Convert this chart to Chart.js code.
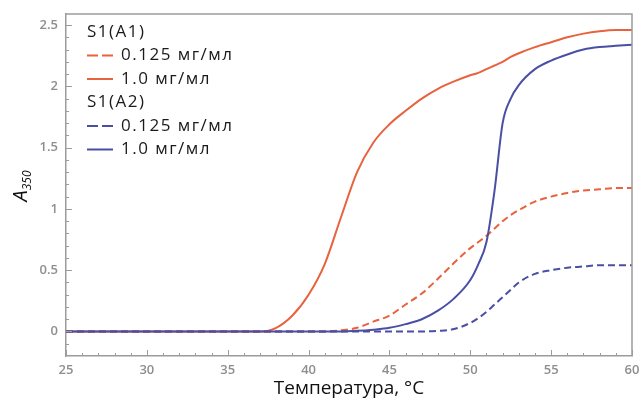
<!DOCTYPE html>
<html>
<head>
<meta charset="utf-8">
<script src="https://cdn.jsdelivr.net/npm/chart.js@4.4.1/dist/chart.umd.min.js"></script>
<style>
  html, body { margin: 0; padding: 0; background: #fff; }
  #wrap { width: 642px; height: 400px; position: relative; }
</style>
</head>
<body>
<div id="wrap"><canvas id="chart"></canvas></div>
<script>
// Temperature grid (°C) shared by all four curves
const temps = [25, 30, 35, 37, 38, 39, 40, 41, 42, 43, 44, 45, 46, 47, 48, 49, 50, 50.5, 51, 51.5, 52, 52.5, 53, 54, 55, 56, 57, 58, 59, 60]

// A350 readings, S1(A1)
const a1Low  = [0, 0, 0, 0, 0, 0, 0, 0, 0.01, 0.03, 0.08, 0.13, 0.22, 0.31, 0.43, 0.56, 0.68, 0.73, 0.78, 0.84, 0.9, 0.95, 0.99, 1.06, 1.1, 1.13, 1.15, 1.16, 1.17, 1.17]
const a1High = [0, 0, 0, 0, 0.03, 0.13, 0.3, 0.55, 0.93, 1.3, 1.54, 1.69, 1.8, 1.9, 1.98, 2.04, 2.09, 2.11, 2.14, 2.17, 2.2, 2.24, 2.27, 2.32, 2.36, 2.4, 2.43, 2.45, 2.46, 2.46]
// A350 readings, S1(A2)
const a2Low  = [0, 0, 0, 0, 0, 0, 0, 0, 0, 0, 0, 0, 0, 0, 0.005, 0.02, 0.07, 0.11, 0.16, 0.22, 0.28, 0.34, 0.4, 0.47, 0.5, 0.52, 0.53, 0.54, 0.54, 0.54]
const a2High = [0, 0, 0, 0, 0, 0, 0, 0, 0, 0.005, 0.015, 0.03, 0.06, 0.1, 0.17, 0.27, 0.42, 0.55, 0.73, 1.15, 1.7, 1.9, 2.01, 2.14, 2.21, 2.26, 2.3, 2.32, 2.33, 2.34]

const xTicks = [25, 30, 35, 40, 45, 50, 55, 60]
const yTicks = [0, 0.5, 1, 1.5, 2, 2.5]
const groupLabels = ['S1(A1)', 'S1(A2)']
const concLabels = ['0.125 мг/мл', '1.0 мг/мл']

const RED = '#e8623d'
const BLUE = '#4a4fa3'
const AXIS = '#9c9c9c'
const TICK_TEXT = '#8e8e8e'

function series(values, color, dashed, group, label, order) {
  return {
    label: label,
    group: group,
    order: order,
    data: temps.map((t, i) => ({ x: t, y: values[i] })),
    borderColor: color,
    borderWidth: 2,
    borderDash: dashed ? [7, 4] : [],
    pointRadius: 0,
    cubicInterpolationMode: 'monotone',
    fill: false
  }
}

// Inward ticks, the top/right frame, the y title with subscript and the grouped legend
const decorations = {
  id: 'decorations',
  afterDraw(chart) {
    const { ctx, chartArea: a, scales: { x, y } } = chart
    ctx.save()
    ctx.strokeStyle = AXIS
    ctx.lineWidth = 1.5
    ctx.beginPath()
    ctx.moveTo(a.left, a.top); ctx.lineTo(a.right, a.top); ctx.lineTo(a.right, a.bottom)
    ctx.stroke()

    ctx.lineWidth = 1
    ctx.beginPath()
    for (let t = 25; t <= 60; t++) {
      const px = Math.round(x.getPixelForValue(t)) + 0.5
      const len = t % 5 === 0 ? 6 : 3
      ctx.moveTo(px, a.bottom); ctx.lineTo(px, a.bottom - len)
    }
    for (let i = -1; i <= 25; i++) {
      const py = Math.round(y.getPixelForValue(i / 10)) + 0.5
      const len = i % 5 === 0 ? 6 : 3
      ctx.moveTo(a.left, py); ctx.lineTo(a.left + len, py)
    }
    ctx.stroke()

    // y axis title: italic A with subscript 350
    ctx.save()
    ctx.translate(27, 186)
    ctx.rotate(-Math.PI / 2)
    ctx.fillStyle = '#111'
    ctx.textBaseline = 'alphabetic'
    ctx.font = 'italic 20px "Open Sans"'
    const wA = ctx.measureText('A').width
    ctx.font = 'italic 12px "Open Sans"'
    const wSub = ctx.measureText('350').width
    const start = -(wA + wSub) / 2
    ctx.font = 'italic 20px "Open Sans"'
    ctx.fillText('A', start, 0)
    ctx.font = 'italic 12px "Open Sans"'
    ctx.fillText('350', start + wA, 4)
    ctx.restore()

    // legend, grouped by protein
    const rowH = 23.5
    let rowY = a.top + 18
    ctx.textBaseline = 'middle'
    ctx.font = '17px "Open Sans"'
    ctx.letterSpacing = '1.5px'
    groupLabels.forEach(g => {
      ctx.fillStyle = '#1a1a1a'
      ctx.fillText(g, a.left + 21, rowY)
      rowY += rowH
      chart.data.datasets.filter(d => d.group === g).forEach(d => {
        ctx.strokeStyle = d.borderColor
        ctx.lineWidth = 2
        ctx.setLineDash(d.borderDash.length ? [11, 4] : [])
        ctx.beginPath()
        ctx.moveTo(a.left + 21, rowY); ctx.lineTo(a.left + 47, rowY)
        ctx.stroke()
        ctx.setLineDash([])
        ctx.fillStyle = '#1a1a1a'
        ctx.fillText(d.label, a.left + 55, rowY)
        rowY += rowH
      })
    })
    ctx.restore()
  }
}

new Chart(document.getElementById('chart'), {
  type: 'line',
  data: {
    datasets: [
      series(a1Low, RED, true, groupLabels[0], concLabels[0], 3),
      series(a1High, RED, false, groupLabels[0], concLabels[1], 2),
      series(a2Low, BLUE, true, groupLabels[1], concLabels[0], 1),
      series(a2High, BLUE, false, groupLabels[1], concLabels[1], 0)
    ]
  },
  options: {
    responsive: true,
    maintainAspectRatio: false,
    animation: false,
    layout: { padding: { left: 0, top: 14, right: 10, bottom: 0 } },
    plugins: { legend: { display: false }, tooltip: { enabled: false } },
    scales: {
      x: {
        type: 'linear',
        min: 25,
        max: 60,
        afterFit(scale) { scale.height = 44; scale.paddingLeft = 0; scale.paddingRight = 0 },
        afterBuildTicks(scale) { scale.ticks = xTicks.map(v => ({ value: v })) },
        grid: { display: false, drawTicks: false },
        border: { display: true, color: AXIS, width: 1.5 },
        ticks: { color: TICK_TEXT, padding: 6, font: { family: 'Open Sans', size: 13, weight: '600' }, callback: v => String(v) },
        title: { display: true, text: 'Температура, °C', color: '#111', font: { family: 'Open Sans', size: 19 }, padding: { top: 0, bottom: 0 } }
      },
      y: {
        type: 'linear',
        min: -0.2,
        max: 2.59,
        afterFit(scale) { scale.width = 66; scale.paddingTop = 0; scale.paddingBottom = 0 },
        afterBuildTicks(scale) { scale.ticks = yTicks.map(v => ({ value: v })) },
        grid: { display: false, drawTicks: false },
        border: { display: true, color: AXIS, width: 1.5 },
        ticks: { color: TICK_TEXT, padding: 8, font: { family: 'Open Sans', size: 13, weight: '600' }, callback: v => String(v) }
      }
    }
  },
  plugins: [decorations]
})
</script>
</body>
</html>
